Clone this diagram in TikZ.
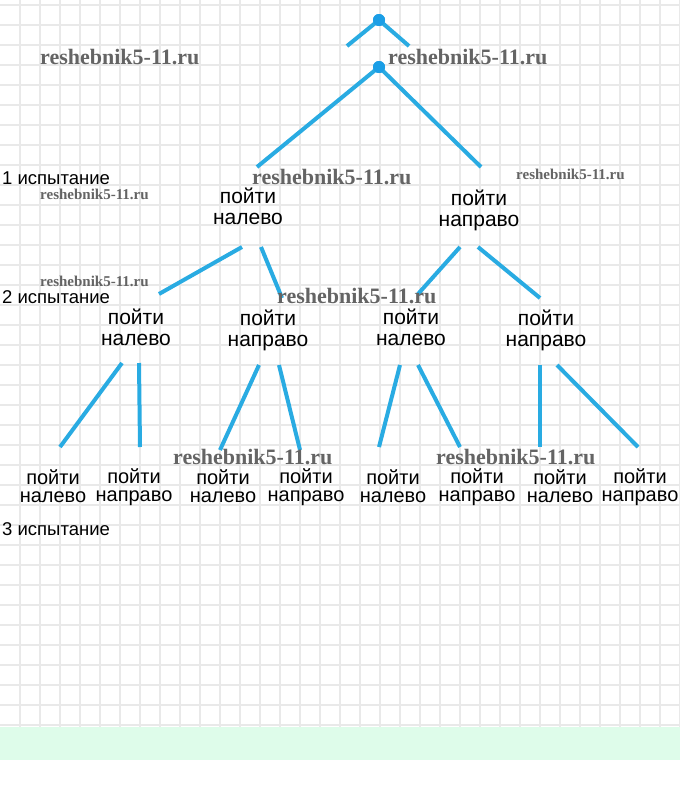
\documentclass[tikz,border=0pt]{standalone}
\usepackage{fontspec}
\setmainfont{Liberation Sans}
\newfontfamily\wmfont{Liberation Serif}
\definecolor{lineblue}{RGB}{41,171,226}
\definecolor{dotblue}{RGB}{27,158,230}
\definecolor{gridc}{RGB}{233,233,233}
\definecolor{stripgreen}{RGB}{222,252,234}
\definecolor{wmgray}{RGB}{100,100,100}
\begin{document}
\begin{tikzpicture}[x=1pt,y=-1pt,
  conn/.style={draw=lineblue, line width=4pt},
  dotnode/.style={circle, fill=dotblue, inner sep=0pt, minimum size=12pt},
  lab/.style={font=\fontsize{21}{21}\selectfont, align=center, inner sep=0pt},
  labc/.style={font=\fontsize{20}{18.5}\selectfont, align=center, inner sep=0pt},
  trial/.style={font=\fontsize{18.5}{20}\selectfont, anchor=west, inner sep=0pt},
  wmbig/.style={font=\wmfont\bfseries\fontsize{22}{22}\selectfont, text=wmgray, anchor=base west, inner sep=0pt},
  wmsmall/.style={font=\wmfont\bfseries\fontsize{15}{15}\selectfont, text=wmgray, anchor=base west, inner sep=0pt}]
\useasboundingbox (0,0) rectangle (680,793);
\fill[white] (0,0) rectangle (680,793);
\fill[stripgreen] (0,727) rectangle (680,760);
\foreach \x in {20,40,...,680} \draw[gridc, line width=1.5pt] (\x,0) -- (\x,727);
\foreach \y in {5,25,...,725} \draw[gridc, line width=1.5pt] (0,\y) -- (680,\y);

% root dots
\node[dotnode] (r0) at (379,20) {};
\node[dotnode] (r1) at (379,67) {};
\coordinate (t0l) at (347,46);
\coordinate (t0r) at (409,46);
\coordinate (t1l) at (257,167);
\coordinate (t1r) at (481,167);
\draw[conn] (t0l) -- (r0.center) -- (t0r);
\draw[conn] (t1l) -- (r1.center) -- (t1r);
\node[dotnode] at (r0) {};
\node[dotnode] at (r1) {};

% level 1
\node[lab] (n1) at (248,209) {\strut пойти\\\strut налево};
\node[lab] (n2) at (479,211) {\strut пойти\\\strut направо};
\coordinate (n1a) at (242,247); \coordinate (n1b) at (261,247);
\coordinate (n2a) at (460,247); \coordinate (n2b) at (478,247);
\coordinate (m1t) at (159,294); \coordinate (m2t) at (282,298);
\coordinate (m3t) at (418,294); \coordinate (m4t) at (540,298);
\draw[conn] (n1a) -- (m1t);
\draw[conn] (n1b) -- (m2t);
\draw[conn] (n2a) -- (m3t);
\draw[conn] (n2b) -- (m4t);

% level 2
\node[lab] (m1) at (136,330) {\strut пойти\\\strut налево};
\node[lab] (m2) at (268,331) {\strut пойти\\\strut направо};
\node[lab] (m3) at (411,330) {\strut пойти\\\strut налево};
\node[lab] (m4) at (546,331) {\strut пойти\\\strut направо};
\coordinate (m1a) at (122,363); \coordinate (m1b) at (139,363);
\coordinate (m2a) at (259,365); \coordinate (m2b) at (279,365);
\coordinate (m3a) at (400,365); \coordinate (m3b) at (418,365);
\coordinate (m4a) at (540,365); \coordinate (m4b) at (557,365);
\coordinate (k1t) at (60,447);  \coordinate (k2t) at (140,447);
\coordinate (k3t) at (220,450); \coordinate (k4t) at (300,450);
\coordinate (k5t) at (379,447); \coordinate (k6t) at (460,447);
\coordinate (k7t) at (540,447); \coordinate (k8t) at (638,447);
\draw[conn] (m1a) -- (k1t);
\draw[conn] (m1b) -- (k2t);
\draw[conn] (m2a) -- (k3t);
\draw[conn] (m2b) -- (k4t);
\draw[conn] (m3a) -- (k5t);
\draw[conn] (m3b) -- (k6t);
\draw[conn] (m4a) -- (k7t);
\draw[conn] (m4b) -- (k8t);

% level 3
\node[labc] (k1) at (53,489)  {\strut пойти\\\strut налево};
\node[labc] (k2) at (134,488) {\strut пойти\\\strut направо};
\node[labc] (k3) at (223,489) {\strut пойти\\\strut налево};
\node[labc] (k4) at (306,488) {\strut пойти\\\strut направо};
\node[labc] (k5) at (393,489) {\strut пойти\\\strut налево};
\node[labc] (k6) at (477,488) {\strut пойти\\\strut направо};
\node[labc] (k7) at (560,489) {\strut пойти\\\strut налево};
\node[labc] (k8) at (640,488) {\strut пойти\\\strut направо};

% trial labels
\node[trial] (tr1) at (2,178) {1 испытание};
\node[trial] (tr2) at (2,297) {2 испытание};
\node[trial] (tr3) at (2,529) {3 испытание};

% watermarks
\node[wmbig] (w1) at (40,64) {reshebnik5-11.ru};
\node[wmbig] (w2) at (388,64) {reshebnik5-11.ru};
\node[wmbig] (w3) at (252,184) {reshebnik5-11.ru};
\node[wmsmall] (w4) at (516,179.5) {reshebnik5-11.ru};
\node[wmsmall] (w5) at (40,199) {reshebnik5-11.ru};
\node[wmsmall] (w6) at (40,286.5) {reshebnik5-11.ru};
\node[wmbig] (w7) at (277,303) {reshebnik5-11.ru};
\node[wmbig] (w8) at (173,464) {reshebnik5-11.ru};
\node[wmbig] (w9) at (436,464) {reshebnik5-11.ru};
\end{tikzpicture}
\end{document}
